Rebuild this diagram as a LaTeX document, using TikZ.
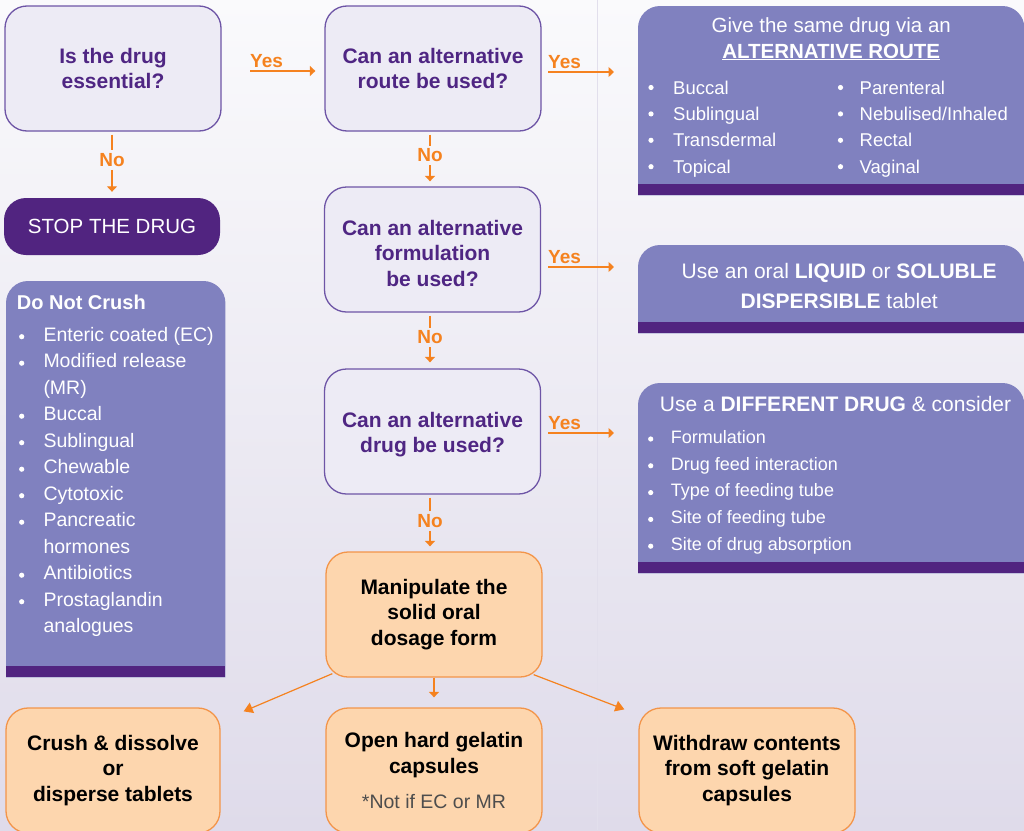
\documentclass[tikz,border=0pt]{standalone}
\usepackage{fontspec}
\setmainfont{Liberation Sans}
\usetikzlibrary{arrows.meta, positioning}

\definecolor{bgtop}{HTML}{FAFAFC}
\definecolor{bgbot}{HTML}{DFDBEA}
\definecolor{bgline}{HTML}{E2DFEC}
\definecolor{qfill}{HTML}{EDEBF5}
\definecolor{qline}{HTML}{6E55A6}
\definecolor{qtext}{HTML}{4F2683}
\definecolor{panelfill}{HTML}{8081BF}
\definecolor{bardark}{HTML}{512480}
\definecolor{orangearr}{HTML}{F5821F}
\definecolor{afill}{HTML}{FDD6AE}
\definecolor{aline}{HTML}{F3954A}
\definecolor{notegray}{HTML}{4D4D4D}

\newcommand\boxfont{\fontsize{21}{25.5}\selectfont\bfseries}
\newcommand\headfont{\fontsize{20.5}{26}\selectfont}
\newcommand\listfont{\fontsize{18.5}{22}\selectfont}

\pgfdeclarelayer{bg}
\pgfsetlayers{bg,main}

\tikzset{
  qbox/.style={draw=qline, line width=1.3pt, fill=qfill, rounded corners=22pt,
    minimum width=216pt, minimum height=125pt, inner sep=0pt,
    align=center, text=qtext, font=\boxfont},
  abox/.style={qbox, draw=aline, fill=afill, text=black},
  stopbox/.style={fill=bardark, rounded corners=22pt, minimum width=216pt,
    minimum height=57pt, text=white, font=\fontsize{20.5}{24}\selectfont},
  panelbox/.style={inner sep=0pt, anchor=north west},
  phead/.style={text=white, inner sep=0pt, align=center, font=\headfont},
  lst/.style={text=white, inner sep=0pt, anchor=base west, font=\listfont},
  yesno/.style={text=orangearr, inner xsep=0pt, inner ysep=3pt,
    font=\fontsize{19}{22}\selectfont\bfseries},
  noline/.style={draw=orangearr, line width=1.2pt},
  arr/.style={noline, -{Triangle[length=5.5pt,width=10pt]}},
  bigarr/.style={noline, -{Triangle[length=9pt,width=11pt]}},
}

\begin{document}
\begin{tikzpicture}[x=1pt,y=-1pt]
\useasboundingbox (0,0) rectangle (1024,830);

% background
\begin{pgfonlayer}{bg}
  \shade[top color=bgtop, bottom color=bgbot] (0,0) rectangle (1024,830);
  \draw[bgline, line width=0.6pt] (597,0) -- (597,830);
\end{pgfonlayer}

% question boxes
\node[qbox] (ess) at (113,68.5) {Is the drug\\essential?};
\node[qbox] (route) at (433,68.5) {Can an alternative\\route be used?};
\node[qbox] (form) at (432.5,249.5) {\rule{0pt}{23pt}Can an alternative\\formulation\\be used?};
\node[qbox] (drug) at (432.5,431.5) {\rule{0pt}{21pt}Can an alternative\\drug be used?};
\node[abox] (manip) at (434,614.5) {Manipulate the\\solid oral\\dosage form};
\node[stopbox] (stop) at (112,226.5) {STOP THE DRUG};

% bottom boxes
\node[abox, minimum width=214pt] (crush) at (113,770.5) {Crush \& dissolve\\or\\disperse tablets};
\node[abox] (hard) at (434,770.5) {Open hard gelatin\\capsules\\[10pt]{\mdseries\fontsize{19.5}{24}\selectfont\color{notegray}*Not if EC or MR}};
\node[abox] (soft) at (747,770.5) {Withdraw contents\\from soft gelatin\\capsules};

% panels
\node[panelbox, minimum width=386pt, minimum height=189pt] (routep) at (638,6) {};
\node[panelbox, minimum width=386pt, minimum height=88pt] (liqp) at (638,245) {};
\node[panelbox, minimum width=386pt, minimum height=190pt] (diffp) at (638,383) {};
\node[panelbox, minimum width=219pt, minimum height=396pt] (dncp) at (6,281) {};

\begin{pgfonlayer}{bg}
  \foreach \p in {routep, liqp, diffp, dncp}{
    \fill[panelfill, rounded corners=22pt] (\p.south west) |- (\p.north east) -- (\p.south east);
    \fill[bardark] (\p.south west) rectangle ([yshift=11pt]\p.south east);
  }
\end{pgfonlayer}

% alternative route panel
\node[phead, anchor=north] (routeh) at ([yshift=-11pt]routep.north) {Give the same drug via an\\\textbf{\underline{ALTERNATIVE ROUTE}}};
\foreach \t [count=\i] in {Buccal, Sublingual, Transdermal, Topical}{
  \node[lst] (ra\i) at (673,{94+26.4*(\i-1)}) {\t};
  \fill[white] (651,{87.5+26.4*(\i-1)}) circle (2.6pt);
}
\foreach \t [count=\i] in {Parenteral, Nebulised/Inhaled, Rectal, Vaginal}{
  \node[lst] (rb\i) at (859.5,{94+26.4*(\i-1)}) {\t};
  \fill[white] (840.5,{87.5+26.4*(\i-1)}) circle (2.6pt);
}

% liquid panel
\node[phead, font=\fontsize{21}{30}\selectfont] (liqt) at ([xshift=8pt,yshift=3pt]liqp.center)
  {Use an oral \textbf{LIQUID} or \textbf{SOLUBLE}\\\textbf{DISPERSIBLE} tablet};

% different drug panel
\node[phead, font=\fontsize{21}{26}\selectfont, anchor=base] (diffh) at (835.5,411) {Use a \textbf{DIFFERENT DRUG} \& consider};
\foreach \t [count=\i] in {Formulation, Drug feed interaction, Type of feeding tube, Site of feeding tube, Site of drug absorption}{
  \node[lst, font=\fontsize{18}{22}\selectfont] (dd\i) at (670.7,{443.3+26.8*(\i-1)}) {\t};
  \fill[white] (650.7,{439+26.8*(\i-1)}) circle (2.6pt);
}

% do not crush panel
\node[lst, font=\fontsize{20}{24}\selectfont\bfseries] (dnch) at (16.7,309) {Do Not Crush};
\foreach \b/\t [count=\i] in {1/Enteric coated (EC), 1/Modified release, 0/(MR), 1/Buccal, 1/Sublingual, 1/Chewable, 1/Cytotoxic, 1/Pancreatic, 0/hormones, 1/Antibiotics, 1/Prostaglandin, 0/analogues}{
  \node[lst, font=\fontsize{19.5}{24}\selectfont] (dnc\i) at (43.3,{341+26.5*(\i-1)}) {\t};
  \ifnum\b=1 \fill[white] (21.7,{336.7+26.5*(\i-1)}) circle (2.6pt);\fi
}

% yes arrows
\node[yesno, anchor=south west] (yes1) at (250,71) {Yes};
\draw[arr, shorten >=9pt] (yes1.south west) -- (yes1.south west -| route.west);
\node[yesno, anchor=south west] (yes2) at (548,72) {Yes};
\draw[arr, shorten >=24pt] (yes2.south west) -- (yes2.south west -| routep.west);
\node[yesno, anchor=south west] (yes3) at (548,267) {Yes};
\draw[arr, shorten >=24pt] (yes3.south west) -- (yes3.south west -| liqp.west);
\node[yesno, anchor=south west] (yes4) at (548,433) {Yes};
\draw[arr, shorten >=24pt] (yes4.south west) -- (yes4.south west -| diffp.west);

% no arrows
\node[yesno] (no1) at (112,160) {No};
\draw[noline, shorten <=3pt] (no1.north |- ess.south) -- (no1.north);
\draw[arr, shorten >=6pt] (no1.south) -- (no1.south |- stop.north);
\node[yesno] (no2) at (430,155.5) {No};
\draw[noline, shorten <=3pt] (no2.north |- route.south) -- (no2.north);
\draw[arr, shorten >=5pt] (no2.south) -- (no2.south |- form.north);
\node[yesno] (no3) at (430,337.5) {No};
\draw[noline, shorten <=3pt] (no3.north |- form.south) -- (no3.north);
\draw[arr, shorten >=6pt] (no3.south) -- (no3.south |- drug.north);
\node[yesno] (no4) at (430,521) {No};
\draw[noline, shorten <=3pt] (no4.north |- drug.south) -- (no4.north);
\draw[arr, shorten >=5pt] (no4.south) -- (no4.south |- manip.north);

% manipulation arrows
\draw[bigarr] ([xshift=7pt,yshift=4pt]manip.south west) -- ([xshift=23pt,yshift=-4pt]crush.north east);
\draw[arr, shorten >=10pt] (manip.south) -- (hard.north);
\draw[bigarr] ([xshift=-9pt,yshift=3pt]manip.south east) -- ([xshift=-14pt,yshift=-2pt]soft.north west);

\end{tikzpicture}
\end{document}
